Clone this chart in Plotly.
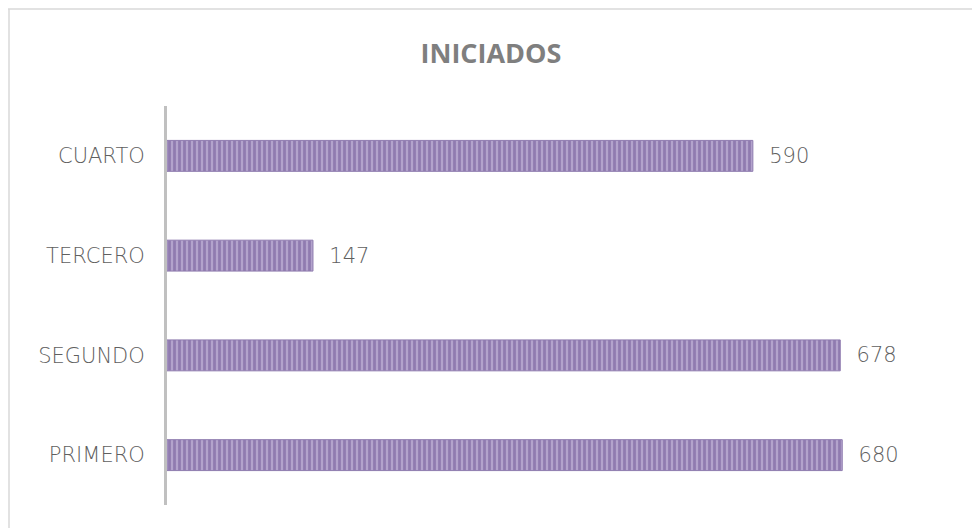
import plotly.graph_objects as go

categories = ["PRIMERO", "SEGUNDO", "TERCERO", "CUARTO"]
values = [680, 678, 147, 590]
title_text = "INICIADOS"

L, R, T, B = 159, 27, 98, 31
PW, PH = 980 - L - R, 528 - T - B

label_font = dict(family="DejaVu Sans", size=21, color="#606060", weight=200)

fig = go.Figure()
fig.add_trace(go.Bar(
    y=categories,
    x=values,
    orientation="h",
    width=0.31,
    text=values,
    texttemplate="  %{text}",
    textposition="outside",
    cliponaxis=False,
    textfont=label_font,
    marker=dict(
        color="#B3A3CC",
        line=dict(color="#8F7CAF", width=1),
        pattern=dict(shape="|", fillmode="overlay", fgcolor="#6E5494", size=5, solidity=0.55),
    ),
    hoverinfo="skip",
))

fig.update_layout(
    width=980, height=528,
    paper_bgcolor="white", plot_bgcolor="white",
    margin=dict(l=L, r=R, t=T, b=B),
    showlegend=False,
    title=dict(text="<b>" + title_text + "</b>", x=(491 - 8) / 980, xanchor="center",
               y=1 - (54 - 8) / 528, yanchor="middle",
               font=dict(family="Open Sans", size=27, color="#7F7F7F")),
    xaxis=dict(range=[0, PW / 0.993], visible=False, showgrid=False, zeroline=False),
    yaxis=dict(categoryorder="array", categoryarray=categories, showgrid=False, zeroline=False,
               showline=True, linecolor="#C0C0C0", linewidth=3, ticks="", ticklabelstandoff=15,
               tickfont=label_font),
    shapes=[
        dict(type="line", xref="paper", yref="paper", x0=-L / PW, x1=1.1,
             y0=1 + (T - 1) / PH, y1=1 + (T - 1) / PH,
             line=dict(color="#D9D9D9", width=1.5)),
        dict(type="line", xref="paper", yref="paper", x0=-(L - 1) / PW, x1=-(L - 1) / PW,
             y0=-0.2, y1=1 + (T - 1) / PH,
             line=dict(color="#D9D9D9", width=1.5)),
    ],
)

fig.write_html("out.html")
